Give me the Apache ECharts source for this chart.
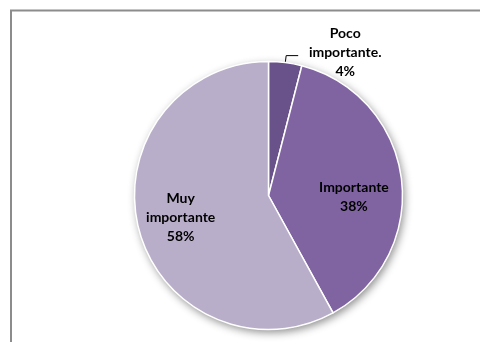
<!DOCTYPE html>
<html>
<head>
<meta charset="utf-8">
<script src="https://cdn.jsdelivr.net/npm/echarts@6/dist/echarts.min.js"></script>
<style>
  html, body { margin: 0; padding: 0; background: #fff; }
  #chart { width: 480px; height: 342px; }
</style>
</head>
<body>
<div id="chart"></div>
<script>
// data
const categories = ['Poco importante.', 'Importante', 'Muy importante']
const values = [4, 38, 58]

const sliceColors = ['#69518a', '#8064a2', '#b9aeca']
const labelPlaces = ['outside', 'inside', 'inside']
const labelOffsets = [[2, -3], [16, 10], [-20, 5]]

const chart = echarts.init(document.getElementById('chart'))
const total = values.reduce((a, b) => a + b, 0)

const labelFont = { fontFamily: 'Lato', fontWeight: 'bold', fontSize: 14, lineHeight: 19, color: '#000' }

chart.setOption({
  animation: false,
  graphic: [{
    type: 'rect',
    shape: { x: 11, y: 10.5, width: 520, height: 400 },
    style: { fill: 'none', stroke: '#8c8c8c', lineWidth: 2 },
    silent: true
  }],
  series: [
    {
      // shadow under the pie
      type: 'pie',
      center: [268.5, 195.5],
      radius: 134,
      silent: true,
      label: { show: false },
      labelLine: { show: false },
      itemStyle: {
        color: '#fff',
        shadowBlur: 8,
        shadowOffsetX: 2,
        shadowOffsetY: 3,
        shadowColor: 'rgba(0,0,0,0.45)'
      },
      data: [{ name: 'all', value: total }]
    },
    {
      type: 'pie',
      center: [268.5, 195.5],
      radius: 134,
      startAngle: 90,
      clockwise: true,
      silent: true,
      itemStyle: { borderColor: '#fff', borderWidth: 1.5 },
      label: {
        formatter: p => p.name.split(' ').map(s => '{t|' + s + '}').join('\n') + '\n{t|' + Math.round(p.percent) + '%}',
        rich: { t: Object.assign({ width: 80, align: 'center' }, labelFont) }
      },
      labelLine: { length: 7, length2: 12, smooth: false, lineStyle: { color: '#000', width: 1 } },
      labelLayout: p => ({ dx: labelOffsets[p.dataIndex][0], dy: labelOffsets[p.dataIndex][1] }),
      data: categories.map((c, i) => ({
        name: c,
        value: values[i],
        itemStyle: { color: sliceColors[i] },
        label: { position: labelPlaces[i] },
        labelLine: { show: labelPlaces[i] === 'outside' }
      }))
    }
  ]
})
</script>
</body>
</html>
